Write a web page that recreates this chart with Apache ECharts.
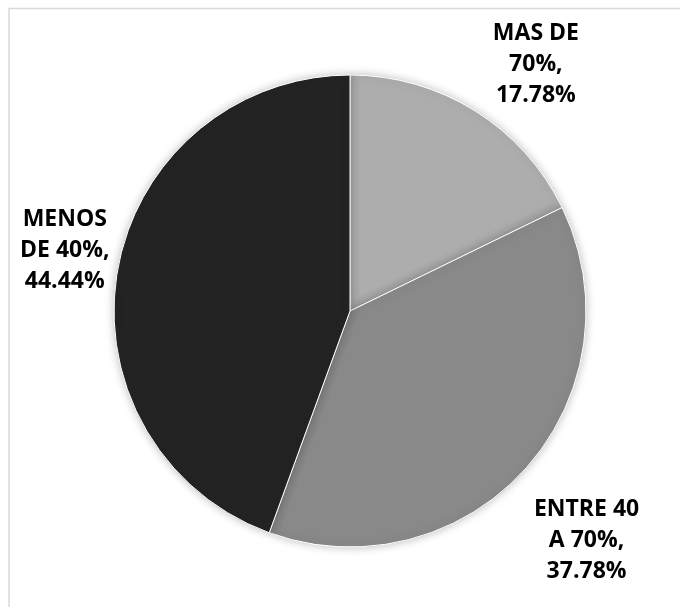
<!DOCTYPE html>
<html>
<head>
<meta charset="utf-8">
<script src="https://cdn.jsdelivr.net/npm/echarts@6/dist/echarts.min.js"></script>
<style>html,body{margin:0;padding:0;background:#fff}#c{width:680px;height:607px}</style>
</head>
<body>
<div id="c"></div>
<script>
const categories = ['MAS DE\n70%', 'ENTRE 40\nA 70%', 'MENOS\nDE 40%'];
const values = [17.78, 37.78, 44.44];
const colors = ['#adadad', '#898989', '#232323'];
const labelNudge = [[20, 19], [4, 20], [23, -6]];

const chart = echarts.init(document.getElementById('c'), null, {renderer: 'canvas'});
const pieData = categories.map((n, i) => ({name: n, value: values[i], itemStyle: {color: colors[i]}}));
const labelFont = {fontFamily: 'Open Sans', fontWeight: 700, fontSize: 23, color: '#000', lineHeight: 31, align: 'center'};

chart.setOption({
  animation: false,
  graphic: [{
    type: 'rect', silent: true,
    shape: {x: 9, y: 8.5, width: 700, height: 700},
    style: {fill: 'none', stroke: '#d9d9d9', lineWidth: 1.5}
  }],
  series: [
    {
      type: 'pie', silent: true,
      center: [350, 311], radius: [0, 236],
      startAngle: 90, clockwise: true,
      itemStyle: {borderColor: '#ffffff', borderWidth: 1, shadowBlur: 10, shadowColor: 'rgba(0,0,0,0.25)'},
      label: {show: false}, labelLine: {show: false},
      data: pieData
    },
    {
      type: 'pie', silent: true,
      center: [350, 311], radius: [300, 320],
      startAngle: 90, clockwise: true,
      itemStyle: {color: 'rgba(0,0,0,0)'},
      label: Object.assign({show: true, position: 'inside', formatter: p => p.name + ',\n' + p.value.toFixed(2) + '%'}, labelFont),
      labelLine: {show: false},
      labelLayout: p => ({dx: labelNudge[p.dataIndex][0], dy: labelNudge[p.dataIndex][1]}),
      data: categories.map((n, i) => ({name: n, value: values[i]}))
    }
  ]
});
</script>
</body>
</html>
